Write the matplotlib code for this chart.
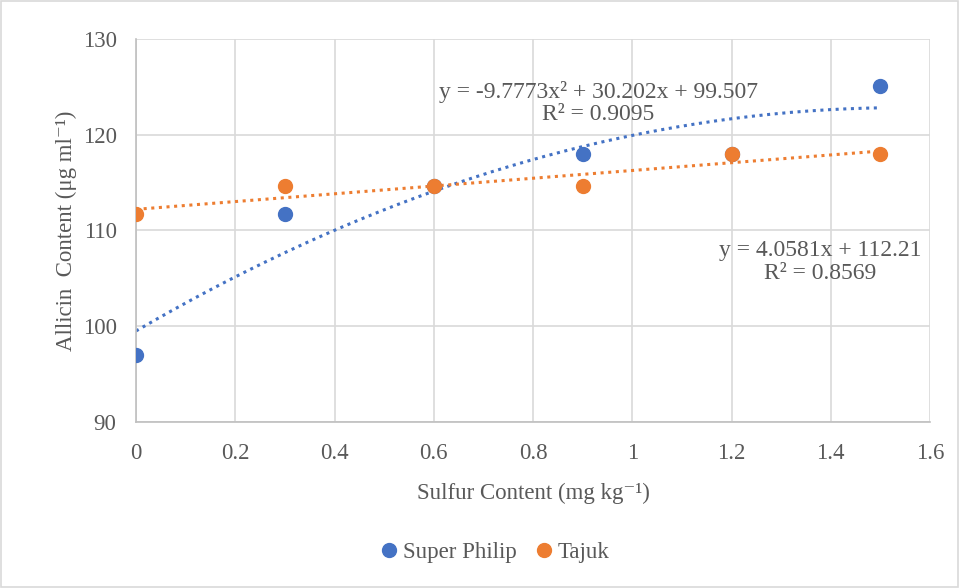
import matplotlib.pyplot as plt
import numpy as np
from matplotlib.patches import Rectangle

# ---------------- Data ----------------

sulfur = [0, 0.3, 0.6, 0.9, 1.2, 1.5]
superPhilip = [97.0, 111.7, 114.6, 118.0, 118.0, 125.1]
tajuk = [111.7, 114.6, 114.6, 114.6, 118.0, 118.0]

# trendline coefficients as printed on the chart (highest power first)
superPhilipFit = [-9.7773, 30.202, 99.507]
tajukFit = [4.0581, 112.21]

superPhilipEq = "y = -9.7773x\u00b2 + 30.202x + 99.507\nR\u00b2 = 0.9095"
tajukEq = "y = 4.0581x + 112.21\nR\u00b2 = 0.8569"

blue = "#4472C4"
orange = "#ED7D31"
textGray = "#595959"

plt.rcParams['font.family'] = ['Liberation Serif', 'DejaVu Serif']

# ---------------- Plot ----------------

fig = plt.figure(figsize=(9.6, 5.88), dpi=100)
ax = fig.add_axes([0.1417, 0.2823, 0.8271, 0.6514])

xs = np.linspace(0, 1.5, 200)
ax.plot(xs, np.polyval(superPhilipFit, xs), color=blue, linestyle=(0, (1, 1.5)), linewidth=2.2, zorder=2)
ax.plot(xs, np.polyval(tajukFit, xs), color=orange, linestyle=(0, (1, 1.5)), linewidth=2.2, zorder=2)

ax.plot(sulfur, superPhilip, 'o', color=blue, markersize=10, label='Super Philip', zorder=3)
ax.plot(sulfur, tajuk, 'o', color=orange, markersize=10, label='Tajuk', zorder=4)

ax.set_xlim(0, 1.6)
ax.set_ylim(90, 130)
ax.set_xticks(np.arange(0, 1.61, 0.2))
ax.set_xticklabels(["0", "0.2", "0.4", "0.6", "0.8", "1", "1.2", "1.4", "1.6"])
ax.set_yticks(np.arange(90, 131, 10))

ax.grid(True, color="#d9d9d9", linewidth=1.2)
ax.set_axisbelow(True)
for side in ["top", "right"]:
    ax.spines[side].set_visible(False)
for side in ["left", "bottom"]:
    ax.spines[side].set_color("#bfbfbf")
    ax.spines[side].set_linewidth(1.2)

ax.tick_params(axis='y', length=0, labelsize=16.5, colors=textGray, pad=14)
ax.tick_params(axis='x', length=0, labelsize=16.5, colors=textGray, pad=15)
ax.set_xlabel("Sulfur Content (mg kg\u207b\u00b9)", fontsize=16.5, color=textGray, labelpad=14)
ax.set_ylabel("Allicin  Content (\u03bcg ml\u207b\u00b9)", fontsize=16.5, color=textGray, labelpad=4)

ax.text(0.931, 123.3, superPhilipEq, ha='center', va='center', multialignment='center',
        fontsize=17, color=textGray, linespacing=1.1)
ax.text(1.378, 106.7, tajukEq, ha='center', va='center', multialignment='center',
        fontsize=17, color=textGray, linespacing=1.1)

leg = fig.legend(loc='center', bbox_to_anchor=(0.513, 0.061), ncol=2, frameon=False,
                 fontsize=16.5, handletextpad=0.0, columnspacing=0.6, handlelength=1.2)
for t in leg.get_texts():
    t.set_color(textGray)

fig.patches.append(Rectangle((0.001, 0.002), 0.997, 0.996, transform=fig.transFigure,
                             fill=False, edgecolor="#d9d9d9", linewidth=1.2))

fig.savefig("out.png", dpi=100)
